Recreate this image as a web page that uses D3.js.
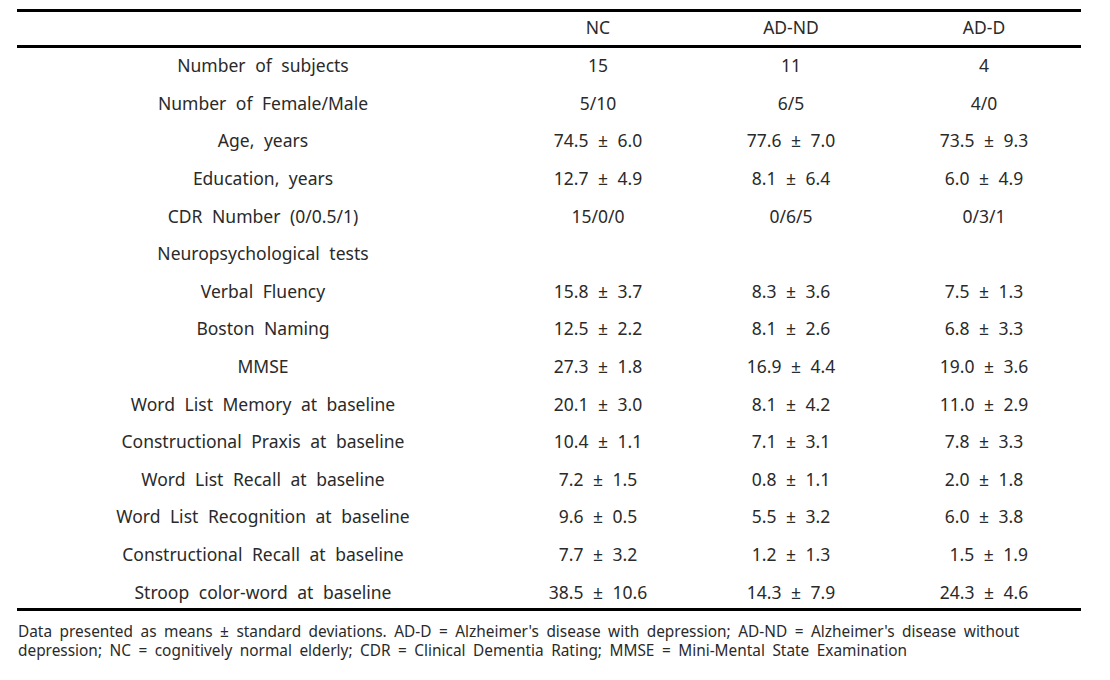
<!DOCTYPE html>
<html><head><meta charset="utf-8">
<script src="https://cdn.jsdelivr.net/npm/d3@7"></script>
<style>
html,body{margin:0;padding:0;background:#fff;}
text{font-family:"Noto Sans","Open Sans",sans-serif;fill:#2a2a2a;}
</style></head>
<body><svg id="c" width="1110" height="680"></svg>
<script>
const columns = ["", "NC", "AD-ND", "AD-D"];
const rowLabels = ["Number of subjects","Number of Female/Male","Age, years","Education, years","CDR Number (0/0.5/1)","Neuropsychological tests","Verbal Fluency","Boston Naming","MMSE","Word List Memory at baseline","Constructional Praxis at baseline","Word List Recall at baseline","Word List Recognition at baseline","Constructional Recall at baseline","Stroop color-word at baseline"];
const ncValues = ["15","5/10","74.5 ± 6.0","12.7 ± 4.9","15/0/0","","15.8 ± 3.7","12.5 ± 2.2","27.3 ± 1.8","20.1 ± 3.0","10.4 ± 1.1","7.2 ± 1.5","9.6 ± 0.5","7.7 ± 3.2","38.5 ± 10.6"];
const adndValues = ["11","6/5","77.6 ± 7.0","8.1 ± 6.4","0/6/5","","8.3 ± 3.6","8.1 ± 2.6","16.9 ± 4.4","8.1 ± 4.2","7.1 ± 3.1","0.8 ± 1.1","5.5 ± 3.2","1.2 ± 1.3","14.3 ± 7.9"];
const addValues = ["4","4/0","73.5 ± 9.3","6.0 ± 4.9","0/3/1","","7.5 ± 1.3","6.8 ± 3.3","19.0 ± 3.6","11.0 ± 2.9","7.8 ± 3.3","2.0 ± 1.8","6.0 ± 3.8"," 1.5 ± 1.9","24.3 ± 4.6"];
const footnote = ["Data presented as means ± standard deviations. AD-D = Alzheimer's disease with depression; AD-ND = Alzheimer's disease without",
                  "depression; NC = cognitively normal elderly; CDR = Clinical Dementia Rating; MMSE = Mini-Mental State Examination"];

const svg = d3.select("#c");
const x = d3.scaleOrdinal().domain(columns).range([263, 598, 791, 984]);
const y = d3.scaleBand().domain(d3.range(rowLabels.length)).range([47, 611]);
const left = 17, right = 1081;

[10.5, 46.5, 609.5].forEach(yy => {
  svg.append("line").attr("x1", left).attr("x2", right).attr("y1", yy).attr("y2", yy)
    .attr("stroke", "#000").attr("stroke-width", 3);
});

svg.selectAll("text.h").data(columns.slice(1)).join("text").attr("class","h")
  .attr("x", d => x(d)).attr("y", 28).attr("dy", "0.36em")
  .attr("text-anchor", "middle").style("font-size","17.5px").text(d => d);

const cols = [["", rowLabels], ["NC", ncValues], ["AD-ND", adndValues], ["AD-D", addValues]];
cols.forEach(([c, vals]) => {
  svg.append("g").selectAll("text").data(vals).join("text")
    .attr("x", x(c)).attr("y", (d, i) => y(i) + y.bandwidth()/2).attr("dy", "0.36em")
    .attr("text-anchor", "middle").style("font-size","17.5px").style("word-spacing","5px")
    .style("white-space","pre")
    .text(d => d);
});

svg.append("g").selectAll("text").data(footnote).join("text")
  .attr("x", 18).attr("y", (d, i) => 631 + i * 19).attr("dy", "0.36em")
  .style("font-size","15.4px").style("word-spacing","3.5px").text(d => d);
</script></body></html>
